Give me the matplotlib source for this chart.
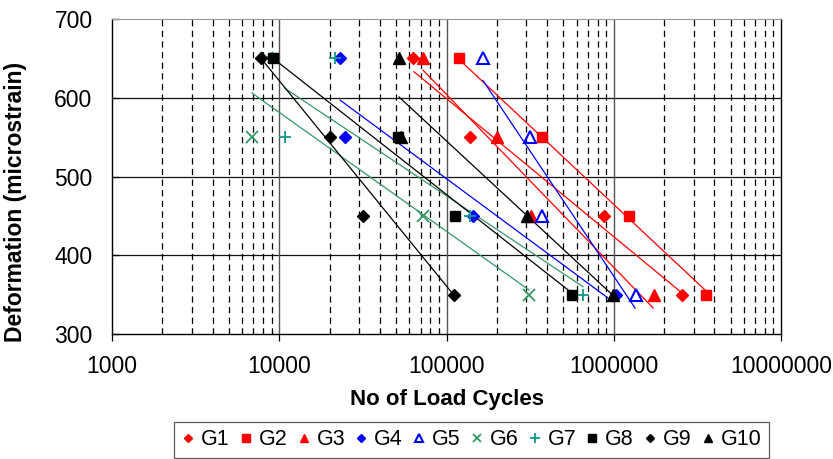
import numpy as np
import matplotlib
matplotlib.use("Agg")
import matplotlib.pyplot as plt
from matplotlib.ticker import LogLocator, FixedLocator, NullFormatter

plt.rcParams["font.family"] = ["Liberation Sans", "DejaVu Sans"]

# -----------------------------
# Data — load cycles at each deformation level
# -----------------------------
LEVELS = [650, 550, 450, 350]
GROUPS = ["G1", "G2", "G3", "G4", "G5", "G6", "G7", "G8", "G9", "G10"]

g1_cycles = [63000, 138000, 880000, 2570000]
g2_cycles = [118000, 371000, 1240000, 3550000]
g3_cycles = [72000, 201000, 320000, 1730000]
g4_cycles = [23000, 24700, 144000, 1030000]
g5_cycles = [166000, 316000, 374000, 1350000]
g6_cycles = [8500, 6870, 71900, 313000]
g7_cycles = [21500, 10800, 138000, 658000]
g8_cycles = [9230, 51000, 112000, 565000]
g9_cycles = [7780, 20100, 31500, 111000]
g10_cycles = [52000, 53400, 304000, 994000]

# fitted trend lines (start / end)
g1_line_x, g1_line_y = [63900, 2560000], [633, 352]
g2_line_x, g2_line_y = [117000, 3510000], [650, 356]
g3_line_x, g3_line_y = [72400, 1720000], [635, 333]
g4_line_x, g4_line_y = [23100, 990000], [597, 341]
g5_line_x, g5_line_y = [165000, 1340000], [622, 333]
g6_line_x, g6_line_y = [6870, 311000], [606, 356]
g7_line_x, g7_line_y = [10800, 655000], [612, 360]
g8_line_x, g8_line_y = [9180, 563000], [650, 352]
g9_line_x, g9_line_y = [7780, 111000], [650, 349]
g10_line_x, g10_line_y = [52000, 990000], [601, 349]

cycles = [g1_cycles, g2_cycles, g3_cycles, g4_cycles, g5_cycles,
          g6_cycles, g7_cycles, g8_cycles, g9_cycles, g10_cycles]
lines_x = [g1_line_x, g2_line_x, g3_line_x, g4_line_x, g5_line_x,
           g6_line_x, g7_line_x, g8_line_x, g9_line_x, g10_line_x]
lines_y = [g1_line_y, g2_line_y, g3_line_y, g4_line_y, g5_line_y,
           g6_line_y, g7_line_y, g8_line_y, g9_line_y, g10_line_y]

# -----------------------------
# Styles
# -----------------------------
RED, BLUE, BLACK = "#FF0000", "#0000FF", "#000000"
GREEN, TEAL = "#339966", "#119988"
styles = [
    dict(marker="D", color=RED, ms=6),
    dict(marker="s", color=RED, ms=7.5),
    dict(marker="^", color=RED, ms=8.5),
    dict(marker="D", color=BLUE, ms=6),
    dict(marker="^", color=BLUE, ms=8.5, mfc="none", mew=1.5),
    dict(marker="x", color=GREEN, ms=8, mew=1.3),
    dict(marker="+", color=TEAL, ms=9, mew=1.3),
    dict(marker="s", color=BLACK, ms=7.5),
    dict(marker="D", color=BLACK, ms=6),
    dict(marker="^", color=BLACK, ms=8.5),
]
line_colors = [RED, RED, RED, BLUE, BLUE, GREEN, GREEN, BLACK, BLACK, BLACK]

# -----------------------------
# Chart
# -----------------------------
fig = plt.figure(figsize=(8.33, 4.59), dpi=100)
ax = fig.add_axes([0.1345, 0.2723, 0.8031, 0.6863])

for lx, ly, c in zip(lines_x, lines_y, line_colors):
    ax.plot(lx, ly, color=c, lw=0.9, zorder=3)

for name, cyc, st in zip(GROUPS, cycles, styles):
    ax.plot(cyc, LEVELS, linestyle="none", label=name, zorder=4, **st)

ax.set_xscale("log")
ax.set_xlim(1000, 1e7)
ax.set_ylim(300, 700)
ax.set_yticks([300, 400, 500, 600, 700])
ax.xaxis.set_major_locator(FixedLocator([1e3, 1e4, 1e5, 1e6, 1e7]))
ax.xaxis.set_minor_locator(LogLocator(base=10, subs=np.arange(2, 10)))
ax.xaxis.set_minor_formatter(NullFormatter())
ax.set_xticklabels(["1000", "10000", "100000", "1000000", "10000000"])

# grid
for yv in [400, 500, 600]:
    ax.axhline(yv, color="#111111", lw=0.9, zorder=1)
for xv in [1e4, 1e5, 1e6]:
    ax.axvline(xv, color="#555555", lw=1.0, zorder=1)
ax.grid(True, which="minor", axis="x", color="black", lw=0.9,
        linestyle=(0, (5, 3.5)), zorder=1)

ax.tick_params(axis="x", which="major", direction="out", length=5, width=0.9,
               labelsize=16.5, pad=10)
ax.tick_params(axis="x", which="minor", direction="in", length=3, width=0.8)
ax.tick_params(axis="y", which="major", direction="in", length=5, width=0.9,
               labelsize=16.5, pad=14)

for side in ["left", "right", "bottom"]:
    ax.spines[side].set_color("black")
    ax.spines[side].set_linewidth(1.0)
ax.spines["top"].set_color("#999999")

ax.set_xlabel("No of Load Cycles", fontsize=16, fontweight="bold", labelpad=8)
ax.set_ylabel("Deformation (microstrain)", fontsize=16.5, fontweight="bold")
ax.yaxis.set_label_coords(-0.127, 0.42)

leg = fig.legend(loc="upper center", bbox_to_anchor=(0.566, 0.081), ncol=10,
                 fontsize=15.5, frameon=True, fancybox=False, edgecolor="#333333",
                 markerscale=0.75, handlelength=0.6, handletextpad=0.3,
                 columnspacing=0.45, borderpad=0.35, borderaxespad=0)
leg.get_frame().set_linewidth(0.9)

fig.savefig("out.png", dpi=100)
